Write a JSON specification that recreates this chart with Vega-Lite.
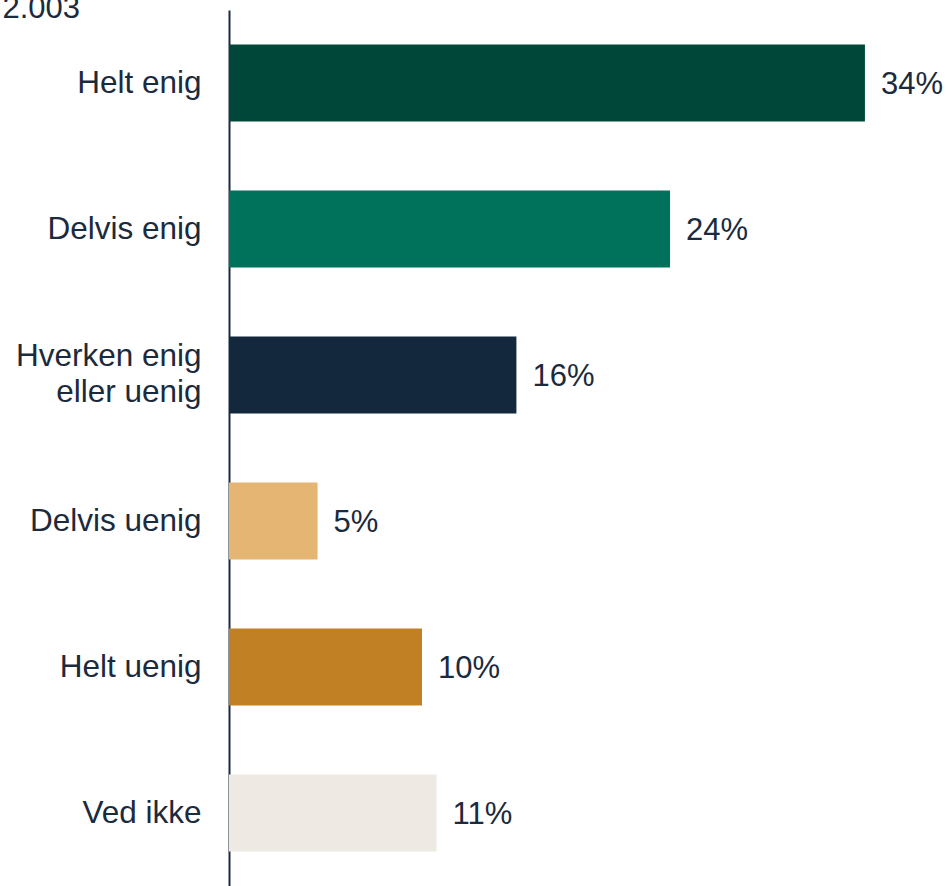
{
  "$schema": "https://vega.github.io/schema/vega-lite/v6.json",
  "width": 719,
  "height": 876,
  "autosize": {"type": "none"},
  "padding": {"left": 229, "top": 10, "right": 0, "bottom": 0},
  "background": "white",
  "config": {"view": {"stroke": null}, "font": "Liberation Sans"},
  "data": {
    "values": [
      {"svar": "Helt enig", "andel": 33.61, "label": "34%"},
      {"svar": "Delvis enig", "andel": 23.31, "label": "24%"},
      {"svar": "Hverken enig eller uenig", "andel": 15.19, "label": "16%"},
      {"svar": "Delvis uenig", "andel": 4.68, "label": "5%"},
      {"svar": "Helt uenig", "andel": 10.2, "label": "10%"},
      {"svar": "Ved ikke", "andel": 10.97, "label": "11%"}
    ]
  },
  "encoding": {
    "y": {
      "field": "svar",
      "type": "nominal",
      "sort": null,
      "scale": {"paddingInner": 0.473, "paddingOuter": 0.2365},
      "axis": {
        "title": "2.003",
        "titleAngle": 0,
        "titleX": -227,
        "titleY": 7,
        "titleAlign": "left",
        "titleBaseline": "alphabetic",
        "titleFontSize": 31,
        "titleFontWeight": "normal",
        "titleColor": "#1B2A3D",
        "titleFont": "Liberation Sans",
        "ticks": false,
        "grid": false,
        "domain": true,
        "domainColor": "#1B2A3D",
        "domainWidth": 2,
        "labelPadding": 28,
        "labelFontSize": 31.5,
        "labelColor": "#1B2A3D",
        "labelFont": "Liberation Sans",
        "labelLimit": 300,
        "labelLineHeight": 36,
        "labelOffset": {"condition": {"test": "datum.value == 'Hverken enig eller uenig'", "value": -18}, "value": 1},
        "labelExpr": "datum.value == 'Hverken enig eller uenig' ? ['Hverken enig', 'eller uenig'] : datum.value"
      }
    },
    "x": {
      "field": "andel",
      "type": "quantitative",
      "scale": {"domain": [0, 38], "nice": false, "zero": true},
      "axis": null
    }
  },
  "layer": [
    {
      "mark": {"type": "bar"},
      "encoding": {
        "color": {
          "field": "svar",
          "type": "nominal",
          "scale": {
            "domain": ["Helt enig", "Delvis enig", "Hverken enig eller uenig", "Delvis uenig", "Helt uenig", "Ved ikke"],
            "range": ["#00473A", "#00715A", "#13273D", "#E5B573", "#C28024", "#EEEAE3"]
          },
          "legend": null
        }
      }
    },
    {
      "mark": {"type": "text", "align": "left", "baseline": "middle", "dx": 16, "dy": 2, "fontSize": 31, "color": "#1B2A3D", "font": "Liberation Sans"},
      "encoding": {"text": {"field": "label"}}
    }
  ]
}
